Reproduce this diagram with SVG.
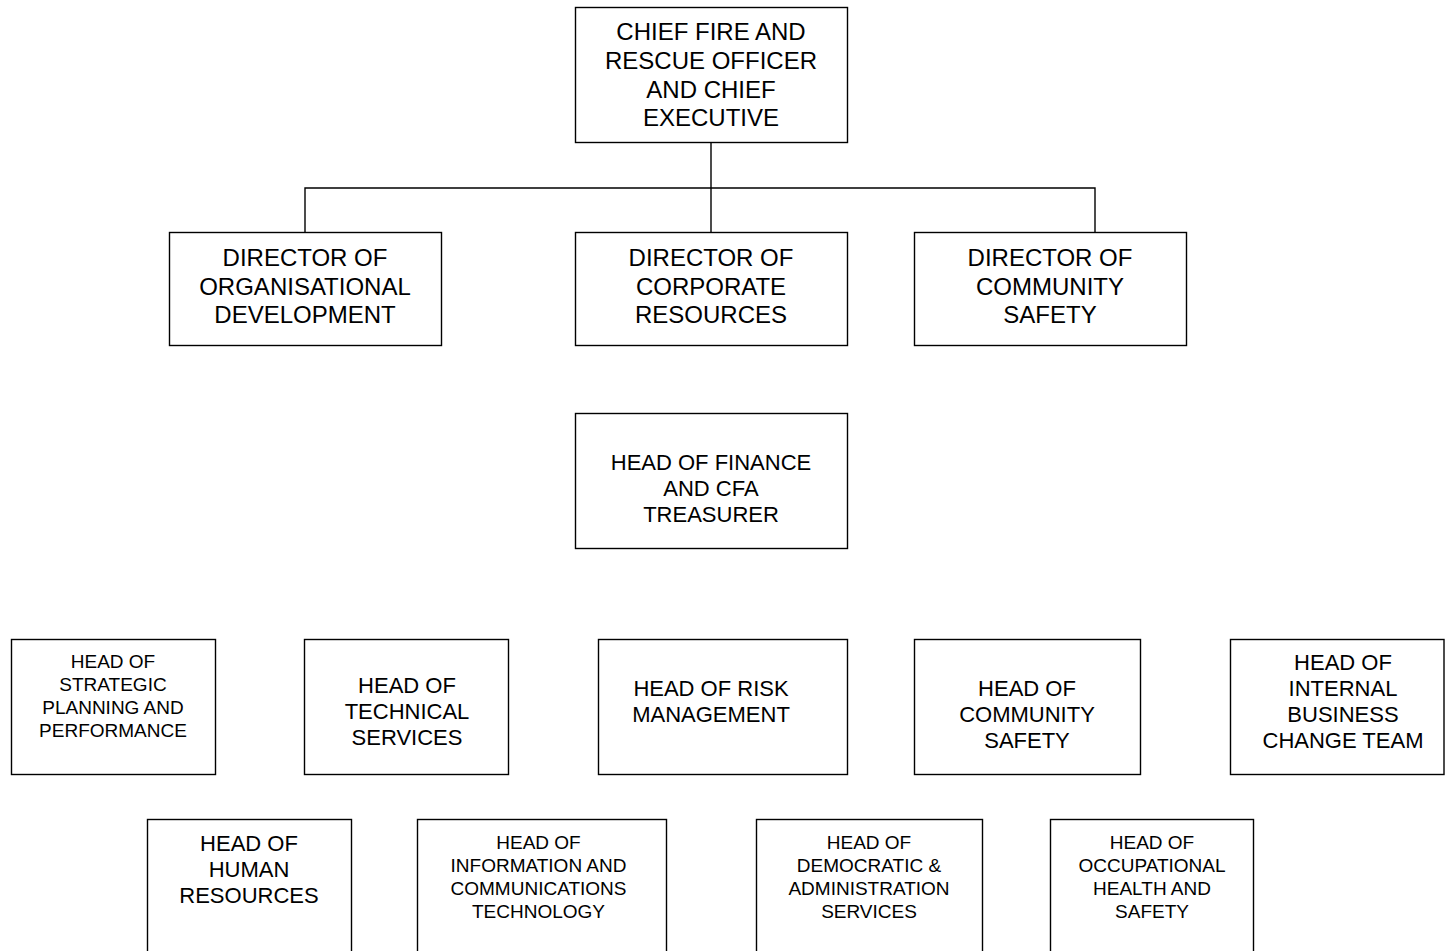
<svg xmlns="http://www.w3.org/2000/svg" width="1445" height="951" viewBox="0 0 1445 951">
<style>
rect{fill:#fff;stroke:#000;stroke-width:1.4}
.c path{fill:none;stroke:#000;stroke-width:1.4}
text{font-family:"Liberation Sans",Arial,sans-serif;fill:#000;text-anchor:middle}
.b{font-size:24px}
.m{font-size:22px}
.s{font-size:19px}
</style>
<rect x="0" y="0" width="1445" height="951" style="fill:#fff;stroke:none"/>
<g class="c" id="connectors">
<path d="M711 142V232M305 232V188H1095V232"/>
</g>
<g id="chief">
<rect x="575.5" y="7.5" width="272" height="135"/>
<text class="b"><tspan x="711" y="39.6">CHIEF FIRE AND</tspan><tspan x="711" y="68.6">RESCUE OFFICER</tspan><tspan x="711" y="97.6">AND CHIEF</tspan><tspan x="711" y="125.6">EXECUTIVE</tspan></text>
</g>
<g id="dir-org">
<rect x="169.5" y="232.5" width="272" height="113"/>
<text class="b"><tspan x="305" y="265.6">DIRECTOR OF</tspan><tspan x="305" y="294.6">ORGANISATIONAL</tspan><tspan x="305" y="322.6">DEVELOPMENT</tspan></text>
</g>
<g id="dir-corp">
<rect x="575.5" y="232.5" width="272" height="113"/>
<text class="b"><tspan x="711" y="265.6">DIRECTOR OF</tspan><tspan x="711" y="294.6">CORPORATE</tspan><tspan x="711" y="322.6">RESOURCES</tspan></text>
</g>
<g id="dir-comm">
<rect x="914.5" y="232.5" width="272" height="113"/>
<text class="b"><tspan x="1050" y="265.6">DIRECTOR OF</tspan><tspan x="1050" y="294.6">COMMUNITY</tspan><tspan x="1050" y="322.6">SAFETY</tspan></text>
</g>
<g id="finance">
<rect x="575.5" y="413.5" width="272" height="135"/>
<text class="m"><tspan x="711" y="470">HEAD OF FINANCE</tspan><tspan x="711" y="496">AND CFA</tspan><tspan x="711" y="522">TREASURER</tspan></text>
</g>
<g id="strategic">
<rect x="11.5" y="639.5" width="204" height="135"/>
<text class="s"><tspan x="113" y="668">HEAD OF</tspan><tspan x="113" y="691">STRATEGIC</tspan><tspan x="113" y="714">PLANNING AND</tspan><tspan x="113" y="737">PERFORMANCE</tspan></text>
</g>
<g id="technical">
<rect x="304.5" y="639.5" width="204" height="135"/>
<text class="m"><tspan x="407" y="693">HEAD OF</tspan><tspan x="407" y="719">TECHNICAL</tspan><tspan x="407" y="745">SERVICES</tspan></text>
</g>
<g id="risk">
<rect x="598.5" y="639.5" width="249" height="135"/>
<text class="m"><tspan x="711" y="696">HEAD OF RISK</tspan><tspan x="711" y="722">MANAGEMENT</tspan></text>
</g>
<g id="community">
<rect x="914.5" y="639.5" width="226" height="135"/>
<text class="m"><tspan x="1027" y="696">HEAD OF</tspan><tspan x="1027" y="722">COMMUNITY</tspan><tspan x="1027" y="748">SAFETY</tspan></text>
</g>
<g id="internal">
<rect x="1230.5" y="639.5" width="213.5" height="135"/>
<text class="m"><tspan x="1343" y="670">HEAD OF</tspan><tspan x="1343" y="696">INTERNAL</tspan><tspan x="1343" y="722">BUSINESS</tspan><tspan x="1343" y="748">CHANGE TEAM</tspan></text>
</g>
<g id="hr">
<rect x="147.5" y="819.5" width="204" height="140"/>
<text class="m"><tspan x="249" y="851">HEAD OF</tspan><tspan x="249" y="877">HUMAN</tspan><tspan x="249" y="903">RESOURCES</tspan></text>
</g>
<g id="ict">
<rect x="417.5" y="819.5" width="249" height="140"/>
<text class="s"><tspan x="538.5" y="849">HEAD OF</tspan><tspan x="538.5" y="872">INFORMATION AND</tspan><tspan x="538.5" y="895">COMMUNICATIONS</tspan><tspan x="538.5" y="918">TECHNOLOGY</tspan></text>
</g>
<g id="democratic">
<rect x="756.5" y="819.5" width="226" height="140"/>
<text class="s"><tspan x="869" y="849">HEAD OF</tspan><tspan x="869" y="872">DEMOCRATIC &amp;</tspan><tspan x="869" y="895">ADMINISTRATION</tspan><tspan x="869" y="918">SERVICES</tspan></text>
</g>
<g id="occupational">
<rect x="1050.5" y="819.5" width="203" height="140"/>
<text class="s"><tspan x="1152" y="849">HEAD OF</tspan><tspan x="1152" y="872">OCCUPATIONAL</tspan><tspan x="1152" y="895">HEALTH AND</tspan><tspan x="1152" y="918">SAFETY</tspan></text>
</g>
</svg>
